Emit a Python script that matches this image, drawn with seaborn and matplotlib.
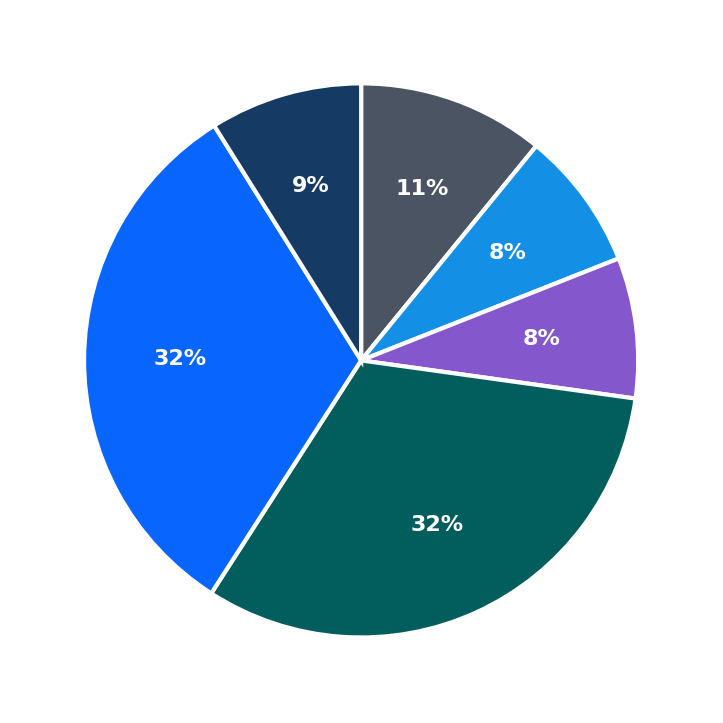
import matplotlib
matplotlib.use("Agg")
import matplotlib.pyplot as plt
import seaborn as sns

# slice values in percent, clockwise from 12 o'clock
shares = [10.9, 8.1, 8.2, 31.9, 32.0, 8.9]
slice_colors = ["#4a5462", "#1390e6", "#8557cc", "#025e5c", "#0866ff", "#153a63"]

sns.set_theme(style="white")

fig = plt.figure(figsize=(7.23, 7.23), dpi=100)
ax = fig.add_axes([0.0205, 0.0225, 0.958, 0.958])

wedges, texts, autotexts = ax.pie(
    shares,
    colors=sns.color_palette(slice_colors),
    startangle=90,
    counterclock=False,
    autopct=lambda p: f"{p:.0f}%",
    pctdistance=0.655,
    wedgeprops={"edgecolor": "white", "linewidth": 3},
    textprops={"color": "white", "fontsize": 16, "fontweight": "bold"},
)
ax.set_aspect("equal")

fig.savefig("out.png", dpi=100, facecolor="white")
plt.close(fig)
